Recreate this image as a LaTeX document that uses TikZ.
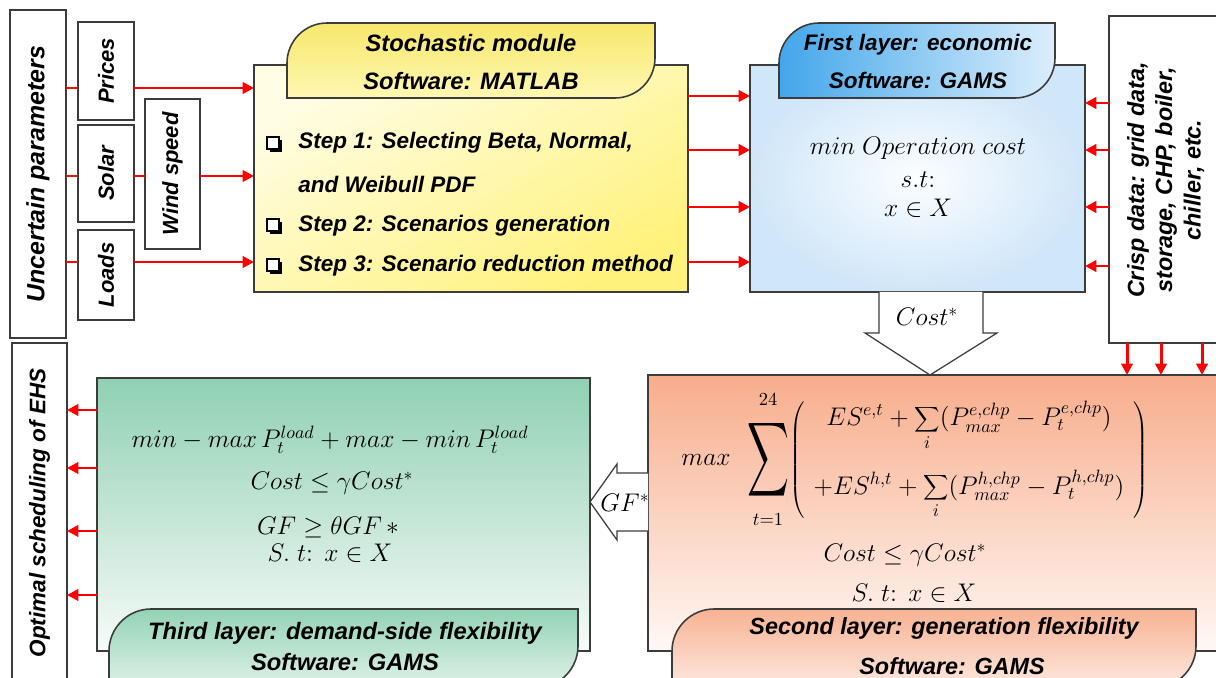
\documentclass[tikz,border=0pt]{standalone}
\usepackage{fix-cm}
\usepackage{graphicx}
\usepackage[no-math]{fontspec}
\setmainfont{Liberation Sans}
\usetikzlibrary{arrows.meta,fit}
\definecolor{bordc}{HTML}{3C3C3C}
\definecolor{yelA}{HTML}{FFFDE4}
\definecolor{yelB}{HTML}{FFF27C}
\definecolor{yeltA}{HTML}{F6E86C}
\definecolor{yeltB}{HTML}{FFF7B2}
\definecolor{bluA}{HTML}{FCFEFF}
\definecolor{bluB}{HTML}{D0E6F9}
\definecolor{blutA}{HTML}{42A6EA}
\definecolor{blutB}{HTML}{DCEEFC}
\definecolor{orA}{HTML}{F8AD8C}
\definecolor{orB}{HTML}{FFF8F5}
\definecolor{ortA}{HTML}{F8B293}
\definecolor{ortB}{HTML}{FDE9DF}
\definecolor{grA}{HTML}{90D0B3}
\definecolor{grB}{HTML}{F7FBF9}
\definecolor{grtA}{HTML}{93D3B6}
\definecolor{grtB}{HTML}{E0F2E9}
\newcommand\fsz[1]{\fontsize{#1}{#1}\selectfont\bfseries\itshape}
\newcommand\mytab[5]{(#1,#4) -- (#1,#2+#5) .. controls (#1,#2+0.45*#5) and (#1+0.45*#5,#2) .. (#1+#5,#2) -- (#3,#2) -- (#3,#4-#5) .. controls (#3,#4-0.45*#5) and (#3-0.45*#5,#4) .. (#3-#5,#4) -- cycle}
\begin{document}
\begin{tikzpicture}[x=0.02cm,y=-0.02cm,
 box/.style={draw=bordc,line width=0.9pt,inner sep=0pt,outer sep=0pt},
 txt/.style={inner sep=0pt,font=\fsz{#1}},
 mth/.style={inner sep=0pt,font=\fontsize{14.5}{17}\selectfont},
 rln/.style={draw=red,line width=1.7pt},
 rarr/.style={rln,-{Triangle[length=6.5pt,width=6.5pt]}},
 barrow/.style={draw=bordc,line width=0.7pt,fill=white},
 chk/.style={draw=black,line width=0.8pt,fill=white,minimum size=0.24cm,inner sep=0pt},
 chks/.style={fill=black,minimum size=0.24cm,inner sep=0pt},
 tabline/.style={draw=bordc,line width=0.9pt}]
\useasboundingbox (0,0) rectangle (1216,678);
\clip (0,0) rectangle (1216,678);

% ---------- left column ----------
\node[box,fill=white,fit={(10,10)(66,338)}] (unc) {};
\node[txt=14.2,rotate=90] (uncT) at (unc.center) {Uncertain parameters};
\node[box,fill=white,fit={(78,22)(134,120)}] (pri) {};
\node[txt=12.5,rotate=90] (priT) at (pri.center) {Prices};
\node[box,fill=white,fit={(78,125)(134,222)}] (sol) {};
\node[txt=12.5,rotate=90] (solT) at (sol.center) {Solar};
\node[box,fill=white,fit={(78,230)(134,320)}] (loa) {};
\node[txt=12.5,rotate=90] (loaT) at (loa.center) {Loads};
\node[box,fill=white,fit={(145,99)(200,249)}] (win) {};
\node[txt=12.5,rotate=90] (winT) at (win.center) {Wind speed};

% ---------- yellow stochastic module ----------
\node[box,fit={(254,65)(688,292)},top color=yelA,bottom color=yelB,shading angle=30] (yel) {};
\shadedraw[tabline,top color=yeltA,bottom color=yeltB] \mytab{287}{23}{655}{98}{40};
\node[txt=13.5] (yelH1) at (471,43) {Stochastic module};
\node[txt=13.5] (yelH2) at (471,81) {Software: MATLAB};
\foreach \nm/\yy in {k1/143,k2/225,k3/265}{
  \node[chks] (\nm s) at (276,\yy+3) {};
  \node[chk] (\nm) at (273,\yy) {};
}
\node[txt=12.8,anchor=west] (st1) at (298,143) {Step 1: Selecting Beta, Normal,};
\node[txt=12.8,anchor=west] (st1b) at (298,184) {and Weibull PDF};
\node[txt=12.8,anchor=west] (st2) at (298,226) {Step 2: Scenarios generation};
\node[txt=12.8,anchor=west] (st3) at (298,266) {Step 3: Scenario reduction method};

% input lines
\coordinate (yP) at (0,88);
\coordinate (yS) at (0,176);
\coordinate (yL) at (0,262);
\draw[rln] (unc.east |- yP) -- (pri.west |- yP);
\draw[rarr] (pri.east |- yP) -- (yel.west |- yP);
\draw[rln] (unc.east |- yS) -- (sol.west |- yS);
\draw[rln] (sol.east |- yS) -- (win.west |- yS);
\draw[rarr] (win.east |- yS) -- (yel.west |- yS);
\draw[rln] (unc.east |- yL) -- (loa.west |- yL);
\draw[rarr] (loa.east |- yL) -- (yel.west |- yL);

% ---------- blue first layer ----------
\node[box,fit={(750,65)(1085,292)},inner color=bluA,outer color=bluB] (blu) {};
\shadedraw[tabline,left color=blutA,right color=blutB] \mytab{779}{23}{1055}{98}{40};
\node[txt=12.8] (bluH1) at (918,45) {First layer: economic};
\node[txt=12.8] (bluH2) at (918,80) {Software: GAMS};
\node[mth] (b1) at (918,148) {$min\;Operation\;cost$};
\node[mth] (b2) at (918,180) {$s.t\colon$};
\node[mth] (b3) at (918,208) {$x\in X$};

\foreach \yy in {96,150,207,262}{
  \coordinate (ya) at (0,\yy);
  \draw[rarr] (yel.east |- ya) -- (blu.west |- ya);
}

% ---------- crisp data ----------
\node[box,fill=white,fit={(1109,16)(1240,343)}] (cri) {};
\node[txt=13.3,rotate=90] (criT1) at (1138,180) {Crisp data: grid data,};
\node[txt=13.3,rotate=90] (criT2) at (1166,180) {storage, CHP, boiler,};
\node[txt=13.3,rotate=90] (criT3) at (1194,180) {chiller, etc.};
\foreach \yy in {103,150,207,266}{
  \coordinate (yc) at (0,\yy);
  \draw[rarr] (cri.west |- yc) -- (blu.east |- yc);
}

% ---------- orange second layer ----------
\node[box,fit={(648,375)(1240,651)},top color=orA,bottom color=orB] (ora) {};
\foreach \xx in {1127,1161,1202}{
  \coordinate (xd) at (\xx,0);
  \draw[rarr] (cri.south -| xd) -- (ora.north -| xd);
}
\node[mth] (omax) at (706,460) {$max$};
\node[inner sep=0pt,font=\fontsize{14.5}{17}\selectfont] (osig) at (768,460) {\scalebox{1.65}[2.95]{$\displaystyle\sum$}};
\node[inner sep=0pt,font=\fontsize{10.5}{12}\selectfont] (o24) at (768,400) {$24$};
\node[inner sep=0pt,font=\fontsize{10.5}{12}\selectfont] (ot1) at (768,520) {$t{=}1$};
\node[mth] (obr) at (969,460) {$\displaystyle\left(\begin{array}{c}
 \displaystyle ES^{e,t}+\sum_{i}\bigl(P^{e,chp}_{max}-P^{e,chp}_{t}\bigr)\\[20pt]
 \displaystyle +ES^{h,t}+\sum_{i}\bigl(P^{h,chp}_{max}-P^{h,chp}_{t}\bigr)
 \end{array}\right)$};
\node[mth] (oc) at (905,555) {$Cost\le\gamma Cost^{*}$};
\node[mth] (os) at (914,593) {$S.\;t\colon\ x\in X$};
\shadedraw[tabline,top color=ortA,bottom color=ortB] \mytab{672}{609}{1196}{688}{42};
\node[txt=13.3] (oraH1) at (944,628) {Second layer: generation flexibility};
\node[txt=13.3] (oraH2) at (952,666) {Software: GAMS};

% Cost* block arrow
\draw[barrow] (879,292) -- (879,333) -- (865,333) -- (930,375) -- (997,333) -- (983,333) -- (983,292);
\node[mth] (costL) at (927,317) {$Cost^{*}$};

% ---------- green third layer ----------
\node[box,fit={(97,378)(590,651)},top color=grA,bottom color=grB] (grn) {};
\node[mth] (g1) at (330,440) {$min-max\,P_t^{load}+max-min\,P_t^{load}$};
\node[mth] (g2) at (332,483) {$Cost\le\gamma Cost^{*}$};
\node[mth] (g3) at (328,527) {$GF\ge\theta GF\,{*}$};
\node[mth] (g4) at (330,553) {$S.\;t\colon\ x\in X$};
\shadedraw[tabline,top color=grtA,bottom color=grtB] \mytab{109}{609}{578}{688}{42};
\node[txt=13.5] (grnH1) at (345,633) {Third layer: demand-side flexibility};
\node[txt=13.5] (grnH2) at (345,662) {Software: GAMS};

% GF* block arrow
\draw[barrow] (648,473) -- (617,473) -- (617,464) -- (590,502) -- (617,540) -- (617,531) -- (648,531);
\node[mth] (gfL) at (625,503) {$GF^{*}$};

% ---------- optimal scheduling ----------
\node[box,fill=white,fit={(12,343)(67,683)}] (opt) {};
\node[txt=12.8,rotate=90] (optT) at (opt.center) {Optimal scheduling of EHS};
\foreach \yy in {410,468,531,595}{
  \coordinate (yg) at (0,\yy);
  \draw[rarr] (grn.west |- yg) -- (opt.east |- yg);
}
\end{tikzpicture}
\end{document}
